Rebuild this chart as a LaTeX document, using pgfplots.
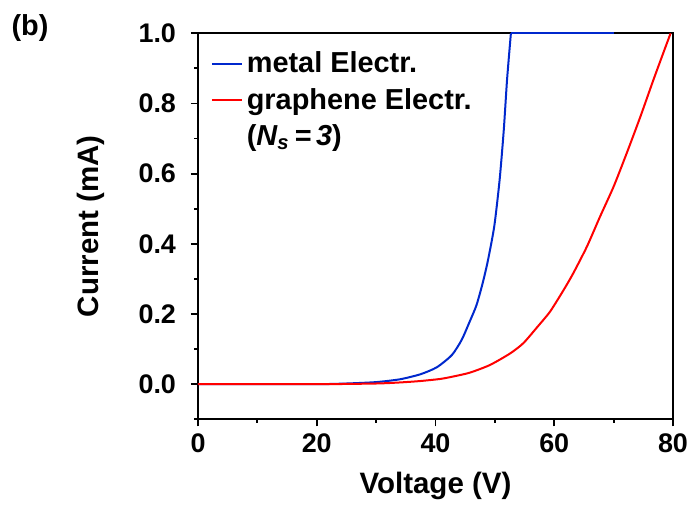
\documentclass[border=0pt]{standalone}
\usepackage{pgfplots}
\pgfplotsset{compat=1.18}
\usepackage{fontspec}
\setmainfont{Liberation Sans}
\definecolor{myblue}{RGB}{0,40,205}
\definecolor{myred}{RGB}{255,0,0}
\begin{document}
\begin{tikzpicture}
\useasboundingbox (-99bp,-42.75bp) rectangle (246bp,209.65bp);
\begin{axis}[
  scale only axis,
  width=237.5bp, height=193bp,
  xmin=0, xmax=80, ymin=-0.1, ymax=1.0,
  xtick={0,20,40,60,80},
  ytick={0,0.2,0.4,0.6,0.8,1.0},
  minor xtick={10,30,50,70},
  minor ytick={-0.1,0.1,0.3,0.5,0.7,0.9},
  tick pos=left,
  tick align=outside,
  major tick length=3.5bp,
  minor tick length=1.8bp,
  every tick/.style={black, line width=0.9bp},
  axis line style={line width=0.9bp},
  /pgf/number format/assume math mode=true,
  yticklabel style={/pgf/number format/fixed, /pgf/number format/fixed zerofill, /pgf/number format/precision=1, xshift=-4bp},
  tick label style={font=\bfseries\fontsize{13.5}{16}\selectfont},
  xlabel={Voltage (V)},
  ylabel={Current (mA)},
  label style={font=\bfseries\fontsize{14.8}{17}\selectfont},
  xlabel style={at={(axis description cs:0.5,-0.172)}, anchor=center},
  ylabel style={at={(axis description cs:-0.225,0.5)}, anchor=center},
  clip=false,
  legend cell align=left,
  legend style={draw=none, fill=none, at={(axis description cs:0.022,0.968)}, anchor=north west,
     font=\bfseries\fontsize{14.5}{17}\selectfont, row sep=2.2bp, inner sep=1bp},
  legend image code/.code={\draw[#1] (0bp,0bp) -- (15bp,0bp);},
]
\addplot[myblue, line width=1bp, smooth, tension=0.4] coordinates {
(0,0) (10,0) (20,0) (25,0.002) (30,0.006) (34,0.014) (37.4,0.028) (40.2,0.048) (42.75,0.083) (44.4,0.126) (45.8,0.18) (46.9,0.225) (47.9,0.285) (48.8,0.35) (49.9,0.45) (50.8,0.582) (51.5,0.724) (52.05,0.867) (52.7,1.0)
};
\addlegendentry{metal Electr.}
\addplot[myred, line width=1bp, smooth, tension=0.4] coordinates {
(0,0) (20,0) (30,0.002) (34,0.005) (37.4,0.009) (40.8,0.015) (43,0.022) (45.8,0.033) (49.2,0.055) (52.6,0.088) (54.8,0.117) (57.1,0.162) (59.3,0.207) (61.6,0.269) (63.2,0.316) (65.5,0.392) (67.7,0.477) (70,0.563) (72.2,0.658) (74.5,0.762) (76.7,0.867) (78.5,0.95) (79.6,1.0)
};
\addlegendentry{graphene Electr.}
\addlegendimage{empty legend}
\addlegendentry{(\textit{N\textsubscript{s}\,=\,3})}
\addplot[myblue, line width=1bp, forget plot] coordinates {(52.7,1.0) (70,1.0)};
\end{axis}
\node[font=\bfseries\fontsize{14.5}{17}\selectfont] at (-84bp,195.75bp) {(b)};
\end{tikzpicture}
\end{document}
